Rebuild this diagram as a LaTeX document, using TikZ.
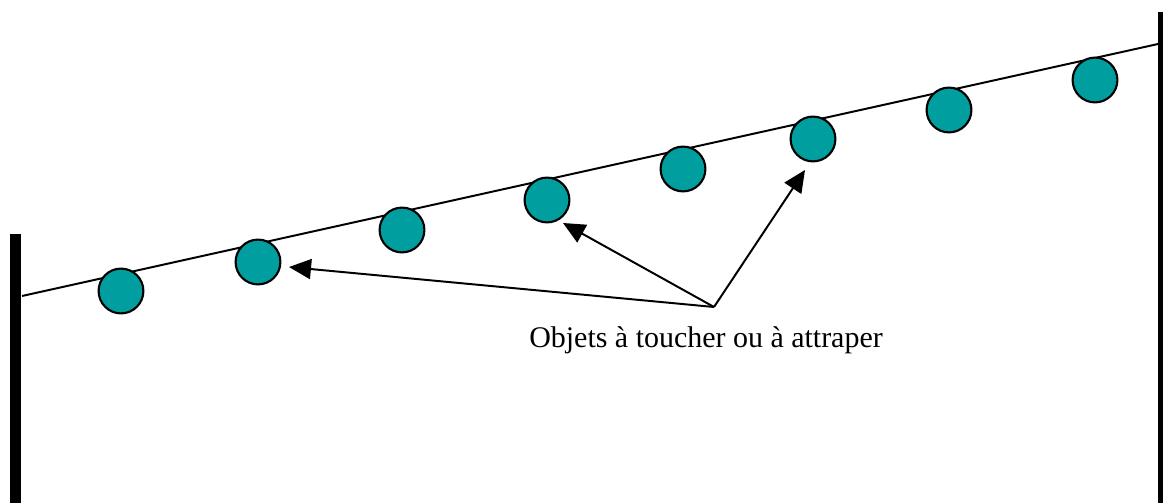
\documentclass[tikz,border=0pt]{standalone}
\usepackage{fontspec}
\setmainfont{Liberation Serif}
\usetikzlibrary{arrows.meta}
\definecolor{balle}{RGB}{0,158,158}
\tikzset{
  objet/.style={circle,draw=black,line width=1.5pt,fill=balle,minimum size=1.12cm,inner sep=0pt},
  fleche/.style={line width=1.4pt,-{Triangle[length=0.55cm,width=0.5cm]}}
}
\begin{document}
\begin{tikzpicture}[x=0.025cm,y=-0.025cm]
        \useasboundingbox (0,0) rectangle (1163,503);
        \fill (10,234) rectangle (21,503);
        \fill (1158,12) rectangle (1163,503);
        \coordinate (fil1) at (22,296);
        \coordinate (fil2) at (1158,44);
        \draw[line width=1.4pt] (fil1) -- (fil2);
        \node[objet] (o1) at (121,291) {};
        \node[objet] (o2) at (258,262) {};
        \node[objet] (o3) at (402,230) {};
        \node[objet] (o4) at (547,200) {};
        \node[objet] (o5) at (683,169) {};
        \node[objet] (o6) at (813,139) {};
        \node[objet] (o7) at (949,110) {};
        \node[objet] (o8) at (1095,80) {};
        \coordinate (depart) at (714,307);
        \coordinate (vers2) at (289,267);
        \coordinate (vers4) at (563,223);
        \coordinate (vers6) at (805,170);
        \draw[fleche] (depart) -- (vers2);
        \draw[fleche] (depart) -- (vers4);
        \draw[fleche] (depart) -- (vers6);
        \node[anchor=base,font=\fontsize{21.3}{25}\selectfont,inner sep=0pt] (legende) at (706,348) {Objets à toucher ou à attraper};
      \end{tikzpicture}
\end{document}
